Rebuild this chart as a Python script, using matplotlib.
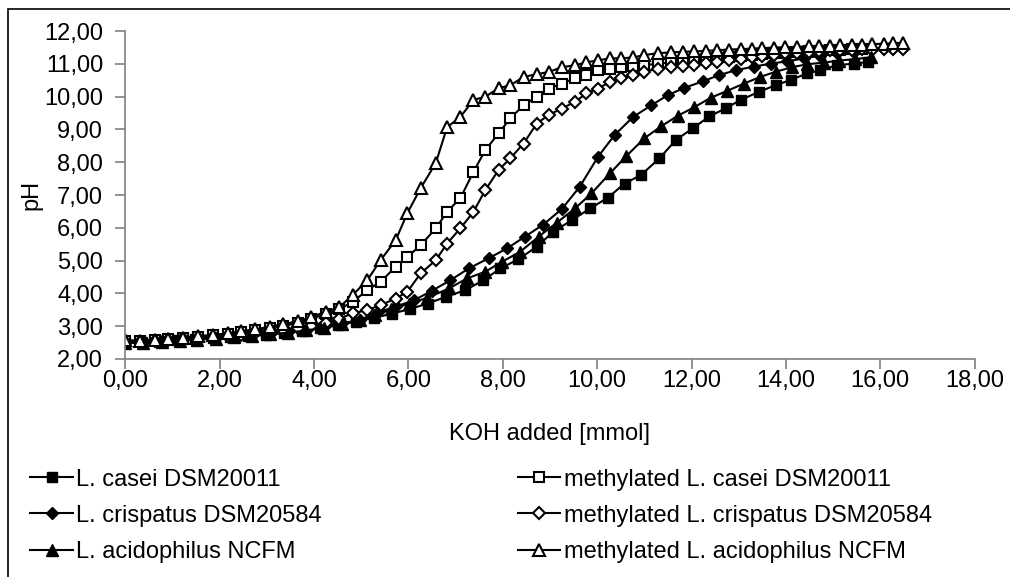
import matplotlib
matplotlib.use("Agg")
import matplotlib.pyplot as plt
from matplotlib.patches import Rectangle
from matplotlib.ticker import FuncFormatter, MultipleLocator

plt.rcParams['font.family'] = ['Liberation Sans', 'DejaVu Sans']

# KOH added [mmol] for the methylated samples (shared titration steps)
x_meth = [0.00, 0.32, 0.63, 0.91, 1.23, 1.55, 1.86, 2.18, 2.46, 2.74, 3.06, 3.34, 3.66,
          3.94, 4.26, 4.54, 4.82, 5.13, 5.41, 5.73, 5.98, 6.26, 6.58, 6.82, 7.10, 7.38,
          7.63, 7.91, 8.16, 8.44, 8.72, 8.97, 9.25, 9.53, 9.77, 10.02, 10.27, 10.51,
          10.76, 11.00, 11.29, 11.57, 11.81, 12.06, 12.31, 12.55, 12.80, 13.04, 13.29,
          13.50, 13.75, 13.99, 14.24, 14.49, 14.70, 14.94, 15.15, 15.40, 15.61, 15.82,
          16.07, 16.28, 16.49]

# L. casei DSM20011
x_casei = [0.00, 0.36, 0.71, 1.09, 1.47, 1.85, 2.23, 2.61, 2.99, 3.37, 3.75, 4.13, 4.51,
           4.89, 5.27, 5.65, 6.03, 6.41, 6.79, 7.21, 7.59, 7.95, 8.33, 8.72, 9.07, 9.46,
           9.85, 10.23, 10.58, 10.93, 11.32, 11.67, 12.03, 12.38, 12.73, 13.04, 13.43,
           13.78, 14.10, 14.45, 14.73, 15.08, 15.44, 15.75]
ph_casei = [2.50, 2.52, 2.54, 2.57, 2.60, 2.63, 2.66, 2.70, 2.74, 2.79, 2.86, 2.94, 3.03,
            3.14, 3.25, 3.38, 3.52, 3.69, 3.89, 4.10, 4.40, 4.76, 5.04, 5.42, 5.88, 6.23,
            6.59, 6.92, 7.35, 7.61, 8.12, 8.68, 9.04, 9.40, 9.65, 9.90, 10.15, 10.35,
            10.51, 10.71, 10.81, 10.96, 11.01, 11.06]

# L. crispatus DSM20584
x_crisp = [0.00, 0.38, 0.77, 1.15, 1.53, 1.92, 2.30, 2.68, 3.06, 3.45, 3.83, 4.21, 4.59,
           4.98, 5.36, 5.74, 6.12, 6.50, 6.89, 7.28, 7.70, 8.09, 8.47, 8.86, 9.25, 9.63,
           10.02, 10.37, 10.76, 11.15, 11.50, 11.85, 12.24, 12.59, 12.94, 13.33, 13.68,
           14.03, 14.38, 14.73, 15.08, 15.44]
ph_crisp = [2.50, 2.52, 2.55, 2.58, 2.61, 2.64, 2.68, 2.72, 2.77, 2.83, 2.90, 2.98, 3.08,
            3.20, 3.42, 3.60, 3.79, 4.08, 4.40, 4.76, 5.07, 5.37, 5.73, 6.10, 6.57, 7.25,
            8.17, 8.83, 9.38, 9.74, 10.05, 10.27, 10.47, 10.66, 10.81, 10.92, 11.01,
            11.08, 11.17, 11.25, 11.32, 11.37]

# L. acidophilus NCFM
x_acid = [0.00, 0.38, 0.77, 1.15, 1.53, 1.92, 2.30, 2.68, 3.06, 3.45, 3.83, 4.21, 4.59,
          4.98, 5.30, 5.63, 6.01, 6.40, 6.86, 7.25, 7.63, 7.98, 8.37, 8.76, 9.14, 9.53,
          9.88, 10.27, 10.62, 11.00, 11.36, 11.71, 12.06, 12.41, 12.76, 13.11, 13.45,
          13.78, 14.13, 14.45, 14.80, 15.12, 15.47, 15.80]
ph_acid = [2.48, 2.50, 2.53, 2.56, 2.59, 2.62, 2.66, 2.70, 2.75, 2.80, 2.87, 2.95, 3.05,
           3.18, 3.33, 3.51, 3.69, 3.86, 4.15, 4.46, 4.66, 4.96, 5.27, 5.73, 6.15, 6.59,
           7.05, 7.66, 8.19, 8.73, 9.10, 9.42, 9.68, 9.97, 10.18, 10.40, 10.60, 10.76,
           10.90, 10.99, 11.04, 11.10, 11.15, 11.20]

# methylated samples, pH at x_meth steps
ph_m_casei = [2.55, 2.56, 2.58, 2.60, 2.64, 2.68, 2.72, 2.76, 2.82, 2.88, 2.95, 3.00, 3.10,
              3.22, 3.38, 3.52, 3.74, 4.10, 4.35, 4.81, 5.11, 5.47, 5.98, 6.49, 6.90, 7.71,
              8.37, 8.88, 9.34, 9.74, 10.00, 10.25, 10.40, 10.56, 10.66, 10.81, 10.86,
              10.91, 10.93, 10.96, 11.01, 11.05, 11.08, 11.12, 11.15, 11.18, 11.21, 11.24,
              11.27, 11.30, 11.32, 11.34, 11.36, 11.38, 11.40, 11.42, 11.44, 11.45, 11.47]
ph_m_crisp = [2.52, 2.53, 2.55, 2.58, 2.61, 2.64, 2.67, 2.70, 2.74, 2.78, 2.83, 2.88, 2.94,
              3.01, 3.10, 3.23, 3.39, 3.49, 3.64, 3.84, 4.05, 4.61, 5.01, 5.52, 5.98, 6.49,
              7.15, 7.76, 8.12, 8.57, 9.18, 9.44, 9.64, 9.84, 10.10, 10.25, 10.45, 10.56,
              10.66, 10.76, 10.86, 10.90, 10.93, 10.97, 11.02, 11.07, 11.11, 11.15, 11.20,
              11.23, 11.27, 11.32, 11.34, 11.37, 11.40, 11.42, 11.44, 11.44, 11.46, 11.44,
              11.45, 11.45, 11.47]
ph_m_acid = [2.57, 2.55, 2.59, 2.62, 2.65, 2.70, 2.73, 2.78, 2.85, 2.90, 2.98, 3.06, 3.15,
             3.28, 3.44, 3.58, 3.95, 4.40, 5.01, 5.62, 6.45, 7.21, 7.97, 9.07, 9.38, 9.90,
             10.00, 10.26, 10.35, 10.60, 10.69, 10.75, 10.90, 10.96, 11.05, 11.11, 11.17,
             11.17, 11.20, 11.27, 11.33, 11.35, 11.37, 11.38, 11.40, 11.42, 11.44, 11.45,
             11.47, 11.48, 11.50, 11.51, 11.52, 11.54, 11.55, 11.56, 11.57, 11.58, 11.59,
             11.60, 11.62, 11.63, 11.65]

fig = plt.figure(figsize=(10.1, 5.77), dpi=100)
ax = fig.add_axes([0.124, 0.378, 0.841, 0.568])

lw = 1.5
mew = 1.5
h_c, = ax.plot(x_casei, ph_casei, '-s', color='black', lw=lw, ms=7, mfc='black', mec='black',
               label='L. casei DSM20011')
h_mc, = ax.plot(x_meth[:len(ph_m_casei)], ph_m_casei, '-s', color='black', lw=lw, ms=7,
                mfc='white', mec='black', mew=mew, label='methylated L. casei DSM20011')
h_d, = ax.plot(x_crisp, ph_crisp, '-D', color='black', lw=lw, ms=6, mfc='black', mec='black',
               label='L. crispatus DSM20584')
h_md, = ax.plot(x_meth[:len(ph_m_crisp)], ph_m_crisp, '-D', color='black', lw=lw, ms=6,
                mfc='white', mec='black', mew=mew, label='methylated L. crispatus DSM20584')
h_a, = ax.plot(x_acid, ph_acid, '-^', color='black', lw=lw, ms=8.5, mfc='black', mec='black',
               label='L. acidophilus NCFM')
h_ma, = ax.plot(x_meth[:len(ph_m_acid)], ph_m_acid, '-^', color='black', lw=lw, ms=8.5,
                mfc='white', mec='black', mew=mew, label='methylated L. acidophilus NCFM')

ax.set_xlim(0, 18)
ax.set_ylim(2, 12)
ax.xaxis.set_major_locator(MultipleLocator(2))
ax.yaxis.set_major_locator(MultipleLocator(1))
comma = FuncFormatter(lambda v, p: f"{v:.2f}".replace('.', ','))
ax.xaxis.set_major_formatter(comma)
ax.yaxis.set_major_formatter(comma)

for s in ['top', 'right']:
    ax.spines[s].set_visible(False)
for s in ['left', 'bottom']:
    ax.spines[s].set_color('#808080')
    ax.spines[s].set_linewidth(1.2)
ax.tick_params(direction='out', length=7, width=1.2, color='#808080', labelsize=17,
               labelcolor='black')
ax.tick_params(axis='x', pad=1.0)
ax.tick_params(axis='y', pad=9)
ax.set_xlabel('KOH added [mmol]', fontsize=17, labelpad=22)
ax.set_ylabel('pH', fontsize=17, labelpad=1)

handles = [h_c, h_d, h_a, h_mc, h_md, h_ma]
fig.legend(handles=handles, labels=[h.get_label() for h in handles], ncol=2,
           loc='upper left', bbox_to_anchor=(0.03, 0.188), frameon=False, fontsize=17,
           handlelength=1.8, handletextpad=0.15, columnspacing=8.3, labelspacing=0.6,
           borderaxespad=0, borderpad=0)

# chart area border (left and top edges visible)
fig.add_artist(Rectangle((8 / 1010, -0.05), 1.2, 1.05 - 9 / 577, transform=fig.transFigure,
                         fill=False, edgecolor='black', lw=1.2))

fig.savefig('out.png', dpi=100)
